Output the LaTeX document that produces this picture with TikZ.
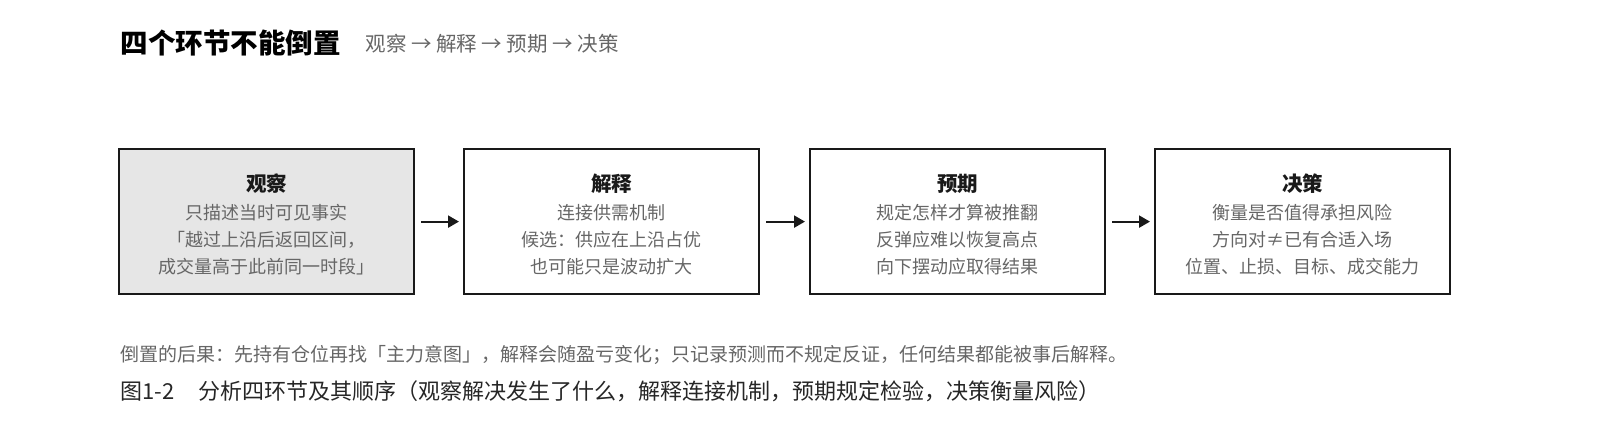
\documentclass[tikz,border=0pt]{standalone}
\usepackage{fontspec}
\setmainfont{Noto Sans CJK SC}
\usetikzlibrary{arrows.meta}
\definecolor{tx}{HTML}{666666}
\definecolor{fl}{HTML}{E6E6E6}
\begin{document}
\begin{tikzpicture}[x=1pt,y=-1pt,
 box/.style={draw=black!90,line width=2.2pt,minimum width=295pt,minimum height=145pt,anchor=north west,inner sep=0pt},
 hd/.style={font=\fontsize{20.5}{24}\selectfont\bfseries,text=black!90},
 bd/.style={font=\fontsize{18}{27}\selectfont,text=tx,align=center},
 arr/.style={-{Triangle[length=11pt,width=12pt]},line width=2.2pt,black!90}]
\useasboundingbox (0,0) rectangle (1600,429);
\node[anchor=west,font=\fontsize{27.5}{30}\selectfont\bfseries] (t) at (117,43) {四个环节不能倒置};
\node[anchor=west,font=\fontsize{20.5}{24}\selectfont,text=tx] (st) at (362,44) {观察 → 解释 → 预期 → 决策};
\node[box,fill=fl] (b1) at (118,148) {};
\node[box] (b2) at (463,148) {};
\node[box] (b3) at (809,148) {};
\node[box] (b4) at (1154,148) {};
\foreach \n/\h/\a/\b/\c in {b1/观察/只描述当时可见事实/「越过上沿后返回区间，/成交量高于此前同一时段」,
 b2/解释/连接供需机制/候选：供应在上沿占优/也可能只是波动扩大,
 b3/预期/规定怎样才算被推翻/反弹应难以恢复高点/向下摆动应取得结果,
 b4/决策/衡量是否值得承担风险/方向对≠已有合适入场/位置、止损、目标、成交能力}{
 \node[hd] (\n h) at ([yshift=-36pt]\n.north) {\h};
 \node[bd,anchor=north] (\n t) at ([yshift=-53pt]\n.north) {\a\\\b\\\c};
}
\draw[arr] ([xshift=6pt]b1.east) -- ([xshift=-4pt]b2.west);
\draw[arr] ([xshift=6pt]b2.east) -- ([xshift=-4pt]b3.west);
\draw[arr] ([xshift=6pt]b3.east) -- ([xshift=-4pt]b4.west);
\node[anchor=west,font=\fontsize{19}{22}\selectfont,text=tx] (fn) at (117,355) {倒置的后果：先持有仓位再找「主力意图」，解释会随盈亏变化；只记录预测而不规定反证，任何结果都能被事后解释。};
\node[anchor=west,font=\fontsize{22}{25}\selectfont,text=black!85] (cap) at (117,391) {图1-2\hspace{1.1em}分析四环节及其顺序（观察解决发生了什么，解释连接机制，预期规定检验，决策衡量风险）};
\end{tikzpicture}
\end{document}
